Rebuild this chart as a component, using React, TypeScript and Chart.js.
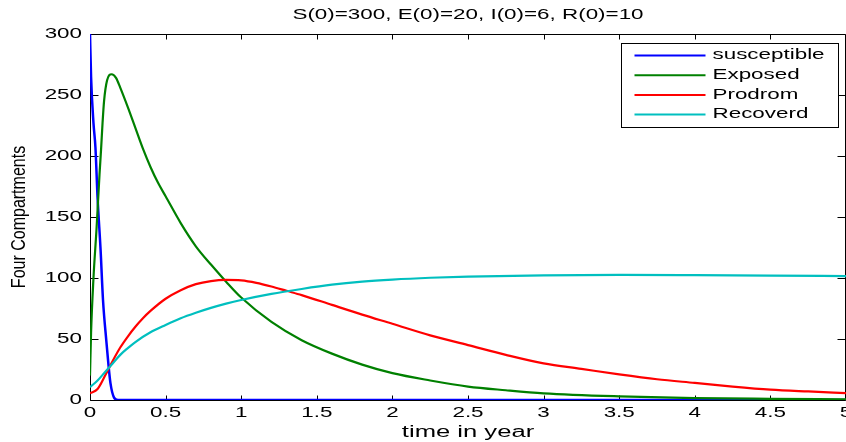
import React, { useEffect, useRef } from "react";
import { Chart, registerables } from "chart.js";

Chart.register(...registerables);

// ---- text ----
const titleText = "S(0)=300, E(0)=20, I(0)=6, R(0)=10";
const xAxisTitle = "time in year";
const yAxisTitle = "Four Compartments";
const seriesLabels = ["susceptible", "Exposed", "Prodrom", "Recoverd"];
const seriesColors = ["#0000ff", "#008000", "#ff0000", "#00bfbf"];

// ---- axes ----
const xMin = 0;
const xMax = 5;
const xStep = 0.5;
const yMin = 0;
const yMax = 300;
const yStep = 50;

// ---- series (time in years, value) ----
const susceptibleT = [0, 0.007, 0.023, 0.036, 0.05, 0.07, 0.086, 0.109, 0.122, 0.135, 0.159, 0.185, 0.3, 1, 2, 3, 4, 5];
const susceptibleV = [300, 265, 227, 207, 166, 123, 82, 47, 29, 14, 2, 0, 0, 0, 0, 0, 0, 0];

const exposedT = [0, 0.007, 0.023, 0.043, 0.063, 0.073, 0.083, 0.093, 0.113, 0.143, 0.172, 0.2, 0.25, 0.3, 0.35, 0.4, 0.45, 0.5, 0.6, 0.7, 0.8, 0.9, 1.0, 1.2, 1.4, 1.6, 1.8, 2.0, 2.25, 2.5, 2.75, 3.0, 3.5, 4.0, 4.5, 5.0];
const exposedV = [20, 55, 100, 140, 185, 205, 227, 245, 262, 267, 264, 256, 240, 223, 206, 191, 178, 167, 145, 126, 111, 97, 84, 64, 49, 38, 29, 22, 16, 11, 8, 5.5, 3, 1.6, 1, 0.6];

const prodromT = [0, 0.05, 0.1, 0.15, 0.2, 0.25, 0.3, 0.35, 0.4, 0.5, 0.6, 0.7, 0.8, 0.9, 1.0, 1.1, 1.2, 1.3, 1.4, 1.6, 1.8, 2.0, 2.25, 2.5, 2.75, 3.0, 3.25, 3.5, 3.75, 4.0, 4.25, 4.5, 4.75, 5.0];
const prodromV = [5.5, 9, 20, 32, 43, 52, 60, 67, 73, 83, 90, 95, 97.5, 98.4, 98, 96, 93, 89.5, 86, 78, 70, 62.5, 53, 45, 37, 30, 25.5, 21, 17, 14, 11, 8.5, 7, 5.7];

const recoveredT = [0, 0.05, 0.1, 0.15, 0.2, 0.25, 0.3, 0.4, 0.5, 0.6, 0.7, 0.8, 0.9, 1.0, 1.2, 1.4, 1.6, 1.8, 2.0, 2.25, 2.5, 3.0, 3.5, 4.0, 4.5, 5.0];
const recoveredV = [10.5, 16, 23, 30, 37, 42.5, 47.5, 55.5, 61.5, 67, 71.5, 75.5, 79, 82, 87, 91, 94.5, 97, 98.7, 100.2, 101.2, 102.2, 102.5, 102.3, 102, 101.5];

const FONT = "'Liberation Sans', Arial, Helvetica, sans-serif";
const STRETCH = 1.6;
const STRETCH_ROT = 1.3;

function toPoints(t: number[], v: number[]) {
  return t.map((x, i) => ({ x, y: v[i] }));
}

function patchContext(ctx: any) {
  if (ctx.__stretched) return;
  ctx.__stretched = true;
  const orig = ctx.fillText.bind(ctx);
  ctx.fillText = function (text: string, x: number, y: number) {
    const m: DOMMatrix = ctx.getTransform();
    const rotated = Math.abs(m.b) > 1e-6 || Math.abs(m.c) > 1e-6;
    const s = rotated ? STRETCH_ROT : STRETCH;
    const p = m.transformPoint(new DOMPoint(x, y));
    ctx.save();
    const sm = new DOMMatrix().translate(p.x, p.y).scale(s, 1).translate(-p.x, -p.y).multiply(m);
    ctx.setTransform(sm);
    orig(text, x, y);
    ctx.restore();
  };
}

const framePlugin = {
  id: "matlabFrame",
  beforeDatasetsDraw(chart: any) {
    const { ctx, chartArea: a, scales } = chart;
    ctx.save();
    ctx.strokeStyle = "#000";
    ctx.lineWidth = 1;
    ctx.beginPath();
    const L = a.left + 0.5;
    const T = a.top + 0.5;
    const B = a.bottom + 0.5;
    const R = a.right - 0.5;
    ctx.moveTo(L, T);
    ctx.lineTo(L, B);
    ctx.lineTo(R, B);
    ctx.lineTo(R, T);
    ctx.lineTo(L, T);
    scales.x.ticks.forEach((tk: any) => {
      const px = Math.round(scales.x.getPixelForValue(tk.value)) + 0.5;
      ctx.moveTo(px, B);
      ctx.lineTo(px, B - 5);
      ctx.moveTo(px, T);
      ctx.lineTo(px, T + 5);
    });
    scales.y.ticks.forEach((tk: any) => {
      const py = Math.round(scales.y.getPixelForValue(tk.value)) + 0.5;
      ctx.moveTo(L, py);
      ctx.lineTo(L + 8, py);
      ctx.moveTo(R, py);
      ctx.lineTo(R - 8, py);
    });
    ctx.stroke();
    ctx.restore();
  },
  afterDraw(chart: any) {
    const { ctx, chartArea: a } = chart;
    ctx.save();
    // title
    ctx.fillStyle = "#000";
    ctx.font = `14px ${FONT}`;
    ctx.textAlign = "center";
    ctx.textBaseline = "middle";
    ctx.fillText(titleText, (a.left + a.right) / 2, 15);
    // legend
    const bw = 217;
    const bh = 84;
    const bx = Math.round(a.right - 8 - bw) + 0.5;
    const by = Math.round(a.top + 9) + 0.5;
    ctx.fillStyle = "#fff";
    ctx.fillRect(bx, by, bw, bh);
    ctx.strokeStyle = "#000";
    ctx.lineWidth = 1;
    ctx.strokeRect(bx, by, bw, bh);
    ctx.textAlign = "left";
    ctx.textBaseline = "middle";
    ctx.font = `14px ${FONT}`;
    seriesLabels.forEach((lab, i) => {
      const ry = by + 12 + i * 19.7;
      ctx.strokeStyle = seriesColors[i];
      ctx.lineWidth = 2;
      ctx.beginPath();
      ctx.moveTo(bx + 13, ry);
      ctx.lineTo(bx + 84, ry);
      ctx.stroke();
      ctx.fillStyle = "#000";
      ctx.fillText(lab, bx + 91, ry);
    });
    ctx.restore();
  },
};

export default function App() {
  const ref = useRef<HTMLCanvasElement | null>(null);
  useEffect(() => {
    const canvas = ref.current;
    if (!canvas) return;
    const ctx = canvas.getContext("2d");
    patchContext(ctx);
    const seriesT = [susceptibleT, exposedT, prodromT, recoveredT];
    const seriesV = [susceptibleV, exposedV, prodromV, recoveredV];
    const chart = new Chart(canvas, {
      type: "line",
      data: {
        datasets: seriesLabels.map((label, i) => ({
          label,
          data: toPoints(seriesT[i], seriesV[i]),
          borderColor: seriesColors[i],
          backgroundColor: seriesColors[i],
          borderWidth: i === 0 ? 2.5 : 2.2,
          pointRadius: 0,
          fill: false,
          cubicInterpolationMode: "monotone",
          order: 4 - i,
        })),
      },
      options: {
        animation: false,
        responsive: false,
        maintainAspectRatio: false,
        layout: { padding: { top: 34, left: 0, right: 0, bottom: 0 } },
        plugins: {
          legend: { display: false },
          title: { display: false },
          tooltip: { enabled: false },
        },
        scales: {
          x: {
            type: "linear",
            min: xMin,
            max: xMax,
            afterFit(s: any) {
              s.height = 42;
              s.paddingLeft = 0;
              s.paddingRight = 0;
            },
            ticks: {
              stepSize: xStep,
              autoSkip: false,
              maxRotation: 0,
              padding: 5,
              color: "#000",
              font: { family: FONT, size: 14 },
              callback: (v: any) => String(Number(v)),
            },
            grid: { display: false, drawTicks: false, tickLength: 0 },
            border: { display: false },
            title: {
              display: true,
              text: xAxisTitle,
              color: "#000",
              font: { family: FONT, size: 16 },
              padding: { top: 0, bottom: 0 },
            },
          },
          y: {
            type: "linear",
            min: yMin,
            max: yMax,
            afterFit(s: any) {
              s.width = 90;
            },
            ticks: {
              stepSize: yStep,
              padding: 8,
              color: "#000",
              font: { family: FONT, size: 14 },
              callback: (v: any) => String(Number(v)),
            },
            grid: { display: false, drawTicks: false, tickLength: 0 },
            border: { display: false },
            title: {
              display: true,
              text: yAxisTitle,
              color: "#000",
              font: { family: FONT, size: 16 },
              padding: { top: 10, bottom: 0 },
            },
          },
        },
      },
      plugins: [framePlugin],
    } as any);
    return () => chart.destroy();
  }, []);
  return (
    <div style={{ position: "fixed", left: 0, top: 0, width: 846, height: 442, background: "#fff" }}>
      <canvas ref={ref} width={846} height={442} style={{ width: 846, height: 442, display: "block" }} />
    </div>
  );
}
